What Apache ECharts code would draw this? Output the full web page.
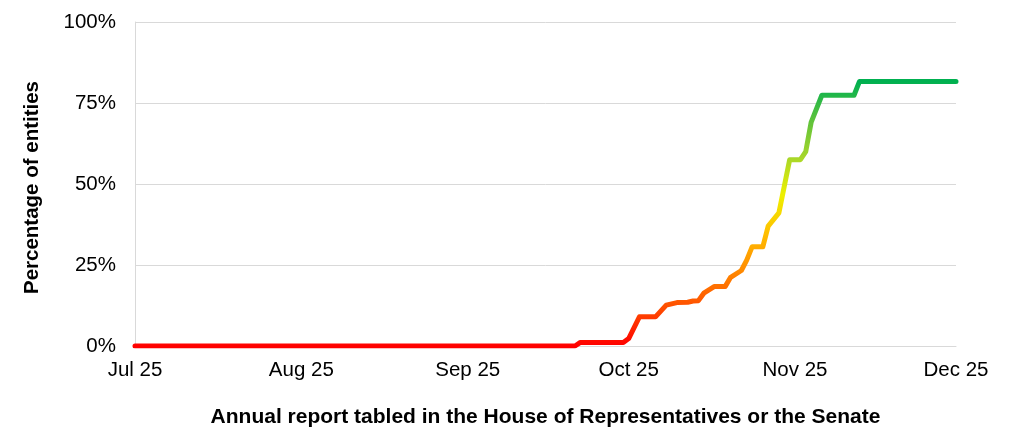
<!DOCTYPE html>
<html>
<head>
<meta charset="utf-8">
<script src="https://cdn.jsdelivr.net/npm/echarts@6/dist/echarts.min.js"></script>
<style>
  html, body { margin: 0; padding: 0; background: #fff; }
  #chart { width: 1011px; height: 442px; }
</style>
</head>
<body>
<div id="chart"></div>
<script>
// fechas de tabulacion y porcentaje acumulado de entidades
var fechas = [
    '2025-07-01', '2025-09-21', '2025-09-22', '2025-09-30', '2025-10-01',
    '2025-10-03', '2025-10-06', '2025-10-08', '2025-10-10', '2025-10-12',
    '2025-10-13', '2025-10-14', '2025-10-15', '2025-10-17', '2025-10-19',
    '2025-10-20', '2025-10-22', '2025-10-23', '2025-10-24', '2025-10-26',
    '2025-10-27', '2025-10-29', '2025-10-31', '2025-11-02', '2025-11-03',
    '2025-11-04', '2025-11-06', '2025-11-12', '2025-11-13', '2025-12-01'
];
var porcentajes = [
    0, 0, 1.1, 1.1, 2.3,
    9.0, 9.0, 12.6, 13.4, 13.5,
    13.9, 14.0, 16.3, 18.4, 18.4,
    21.2, 23.3, 26.5, 30.6, 30.6,
    37.0, 41.1, 57.5, 57.5, 60.0,
    69.0, 77.4, 77.4, 81.6, 81.6
];
var ticksY = [0, 25, 50, 75, 100];
var coloresEscala = ['#ff0000', '#ff4d00', '#ff8a00', '#ffc000', '#eef000', '#a6d62a', '#5cc23c', '#00b050'];

var datos = fechas.map(function(f, i) { return [f, porcentajes[i]]; });

var fuente = '"Liberation Sans", Arial, sans-serif';

var grafico = echarts.init(document.getElementById('chart'));
grafico.setOption({
    animation: false,
    backgroundColor: '#fff',
    textStyle: { fontFamily: fuente },
    grid: { left: 135, right: 55, top: 22, bottom: 96 },
    visualMap: {
        show: false,
        type: 'continuous',
        dimension: 1,
        min: 0,
        max: 81.6,
        inRange: { color: coloresEscala }
    },
    xAxis: {
        type: 'time',
        min: '2025-07-01',
        max: '2025-12-01',
        minInterval: 28 * 86400000,
        maxInterval: 31 * 86400000,
        name: 'Annual report tabled in the House of Representatives or the Senate',
        nameLocation: 'middle',
        nameGap: 61,
        nameTextStyle: { fontSize: 21, fontWeight: 'bold', color: '#000', fontFamily: fuente },
        axisLine: { show: true, lineStyle: { color: '#d9d9d9', width: 1 } },
        axisTick: { show: false },
        splitLine: { show: false },
        axisLabel: {
            fontSize: 20.5,
            color: '#000',
            margin: 14,
            showMinLabel: true,
            showMaxLabel: true,
            hideOverlap: false,
            formatter: '{MMM} {yy}'
        }
    },
    yAxis: {
        type: 'value',
        min: ticksY[0],
        max: ticksY[ticksY.length - 1],
        interval: 25,
        name: 'Percentage of entities',
        nameLocation: 'middle',
        nameGap: 92,
        nameRotate: 90,
        nameTextStyle: { fontSize: 20.5, fontWeight: 'bold', color: '#000', fontFamily: fuente, padding: [0, 7, 0, 0] },
        axisLine: { show: true, lineStyle: { color: '#d9d9d9', width: 1 } },
        axisTick: { show: false },
        splitLine: { show: true, lineStyle: { color: '#d9d9d9', width: 1 } },
        axisLabel: {
            fontSize: 20.5,
            color: '#000',
            margin: 19,
            formatter: '{value}%'
        }
    },
    series: [{
        type: 'line',
        data: datos,
        showSymbol: false,
        smooth: false,
        lineStyle: { width: 5, cap: 'round', join: 'round' }
    }]
});
</script>
</body>
</html>
